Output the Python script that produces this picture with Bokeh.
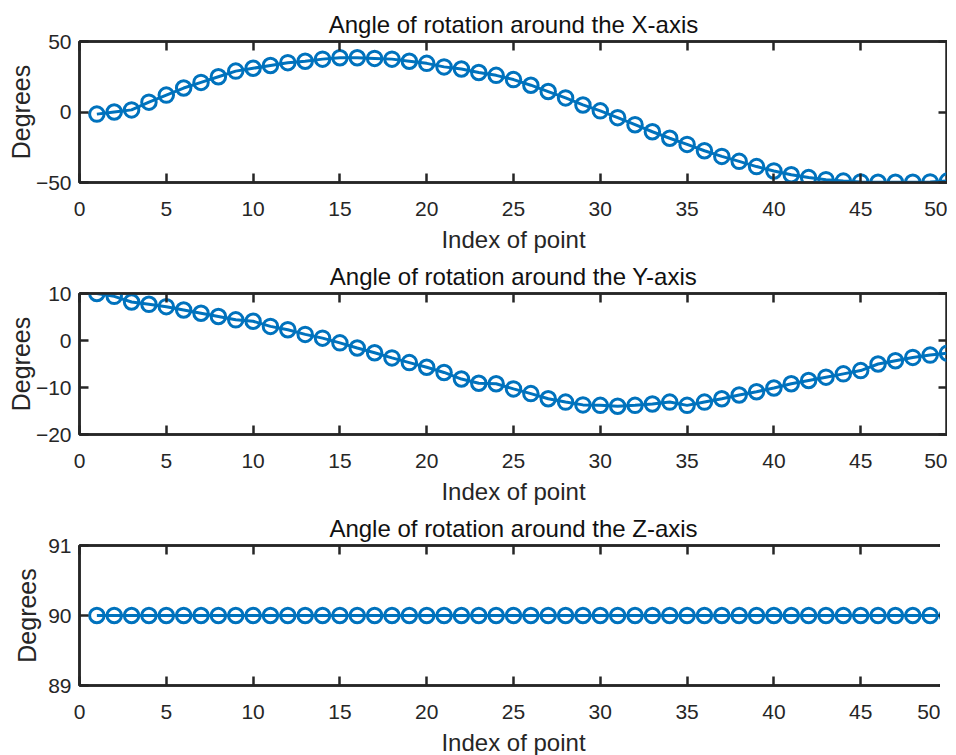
from bokeh.plotting import figure
from bokeh.layouts import column
from bokeh.models import LinearAxis, FixedTicker, Range1d
from bokeh.embed import file_html
from bokeh.resources import INLINE

# ---- data ----
index = [1, 2, 3, 4, 5, 6, 7, 8, 9, 10, 11, 12, 13, 14, 15, 16, 17, 18, 19, 20,
         21, 22, 23, 24, 25, 26, 27, 28, 29, 30, 31, 32, 33, 34, 35, 36, 37, 38, 39, 40,
         41, 42, 43, 44, 45, 46, 47, 48, 49, 50]
rot_x = [-1.5, 0.0, 1.5, 7.0, 12.0, 17.0, 21.0, 25.0, 29.0, 31.0,
         33.0, 35.0, 36.0, 37.5, 38.5, 38.5, 38.0, 37.5, 36.0, 34.5,
         32.0, 30.5, 28.0, 26.0, 23.0, 19.0, 14.5, 10.0, 5.0, 0.8,
         -4.0, -9.0, -14.0, -18.6, -23.0, -27.5, -31.5, -35.0, -38.7, -41.8,
         -44.5, -46.5, -48.0, -49.0, -49.6, -49.8, -49.8, -49.8, -49.6, -49.0]
rot_y = [10.0, 9.4, 8.2, 7.7, 7.2, 6.5, 5.8, 5.1, 4.4, 4.1,
         3.0, 2.3, 1.3, 0.5, -0.5, -1.6, -2.6, -3.7, -4.7, -5.7,
         -6.8, -8.2, -9.1, -9.2, -10.3, -11.3, -12.4, -13.1, -13.7, -13.8,
         -14.0, -13.8, -13.5, -13.1, -13.8, -13.1, -12.4, -11.6, -10.9, -10.1,
         -9.2, -8.5, -7.8, -7.1, -6.4, -5.0, -4.3, -3.6, -3.1, -2.7]
rot_z = [90.0, 90.0, 90.0, 90.0, 90.0, 90.0, 90.0, 90.0, 90.0, 90.0,
         90.0, 90.0, 90.0, 90.0, 90.0, 90.0, 90.0, 90.0, 90.0, 90.0,
         90.0, 90.0, 90.0, 90.0, 90.0, 90.0, 90.0, 90.0, 90.0, 90.0,
         90.0, 90.0, 90.0, 90.0, 90.0, 90.0, 90.0, 90.0, 90.0, 90.0,
         90.0, 90.0, 90.0, 90.0, 90.0, 90.0, 90.0, 90.0, 90.0, 90.0]

x_ticks = [0, 5, 10, 15, 20, 25, 30, 35, 40, 45, 50]
titles = ["Angle of rotation around the X-axis",
          "Angle of rotation around the Y-axis",
          "Angle of rotation around the Z-axis"]
y_ticks_list = [[-50, 0, 50], [-20, -10, 0, 10], [89, 90, 91]]
y_limits = [(-50, 50), (-20, 10), (89, 91)]
x_label = "Index of point"
y_label = "Degrees"

FONT = "Liberation Sans"
AXC = "#262626"
BLUE = "#0072BD"


def style_axis(ax, ticks, labels=True):
    ax.axis_line_color = AXC
    ax.axis_line_width = 2.5
    ax.major_tick_line_color = AXC
    ax.major_tick_line_width = 2.5
    ax.major_tick_in = 9
    ax.major_tick_out = 0
    ax.minor_tick_line_color = None
    ax.minor_tick_in = 0
    ax.minor_tick_out = 0
    ax.major_label_text_font = FONT
    ax.major_label_text_color = AXC
    ax.major_label_text_font_size = "21px"
    ax.major_label_standoff = 8
    if not labels:
        ax.major_label_text_color = None
        ax.major_label_text_font_size = "1px"
        ax.major_label_standoff = 0
        ax.major_label_overrides = {t: "" for t in ticks}


def panel(title, y, ylim, yticks, frame_h, ylab_so, margin):
    p = figure(frame_width=868, frame_height=frame_h, output_backend="svg",
               toolbar_location=None, title=title,
               x_range=Range1d(0, 50), y_range=Range1d(*ylim),
               min_border_left=0, min_border_right=0,
               min_border_top=0, min_border_bottom=0,
               margin=margin)
    p.title.align = "center"
    p.title.text_font = FONT
    p.title.text_font_style = "normal"
    p.title.text_font_size = "24px"
    p.title.text_color = "#111111"
    p.title.standoff = 7
    p.grid.visible = False
    p.outline_line_color = AXC
    p.outline_line_width = 2.5
    p.background_fill_color = "white"
    p.border_fill_color = None

    p.xaxis.ticker = FixedTicker(ticks=x_ticks)
    p.yaxis.ticker = FixedTicker(ticks=yticks)
    style_axis(p.xaxis[0], x_ticks)
    style_axis(p.yaxis[0], yticks)
    p.xaxis[0].major_label_standoff = 19
    p.xaxis.axis_label = x_label
    p.yaxis.axis_label = y_label
    for ax, size in ((p.xaxis[0], "24px"), (p.yaxis[0], "25px")):
        ax.axis_label_text_font = FONT
        ax.axis_label_text_font_style = "normal"
        ax.axis_label_text_font_size = size
        ax.axis_label_text_color = AXC
    p.xaxis[0].axis_label_standoff = 7
    p.yaxis[0].axis_label_standoff = ylab_so

    top = LinearAxis(ticker=FixedTicker(ticks=x_ticks))
    style_axis(top, x_ticks, labels=False)
    p.add_layout(top, "above")
    right = LinearAxis(ticker=FixedTicker(ticks=yticks))
    style_axis(right, yticks, labels=False)
    p.add_layout(right, "right")

    p.line(index, y, line_color=BLUE, line_width=3)
    p.scatter(index, y, marker="circle", size=14.5, fill_color=None,
              line_color=BLUE, line_width=3)
    return p


p1 = panel(titles[0], rot_x, y_limits[0], y_ticks_list[0], 141, -2, (5, 0, -3, 3))
p2 = panel(titles[1], rot_y, y_limits[1], y_ticks_list[1], 141, -2, (5, 0, -3, 3))
p3 = panel(titles[2], rot_z, y_limits[2], y_ticks_list[2], 140, 4, (5, 0, -8, 3))

layout = column(p1, p2, p3, spacing=0)

with open("out.html", "w") as f:
    f.write(file_html(layout, INLINE))
